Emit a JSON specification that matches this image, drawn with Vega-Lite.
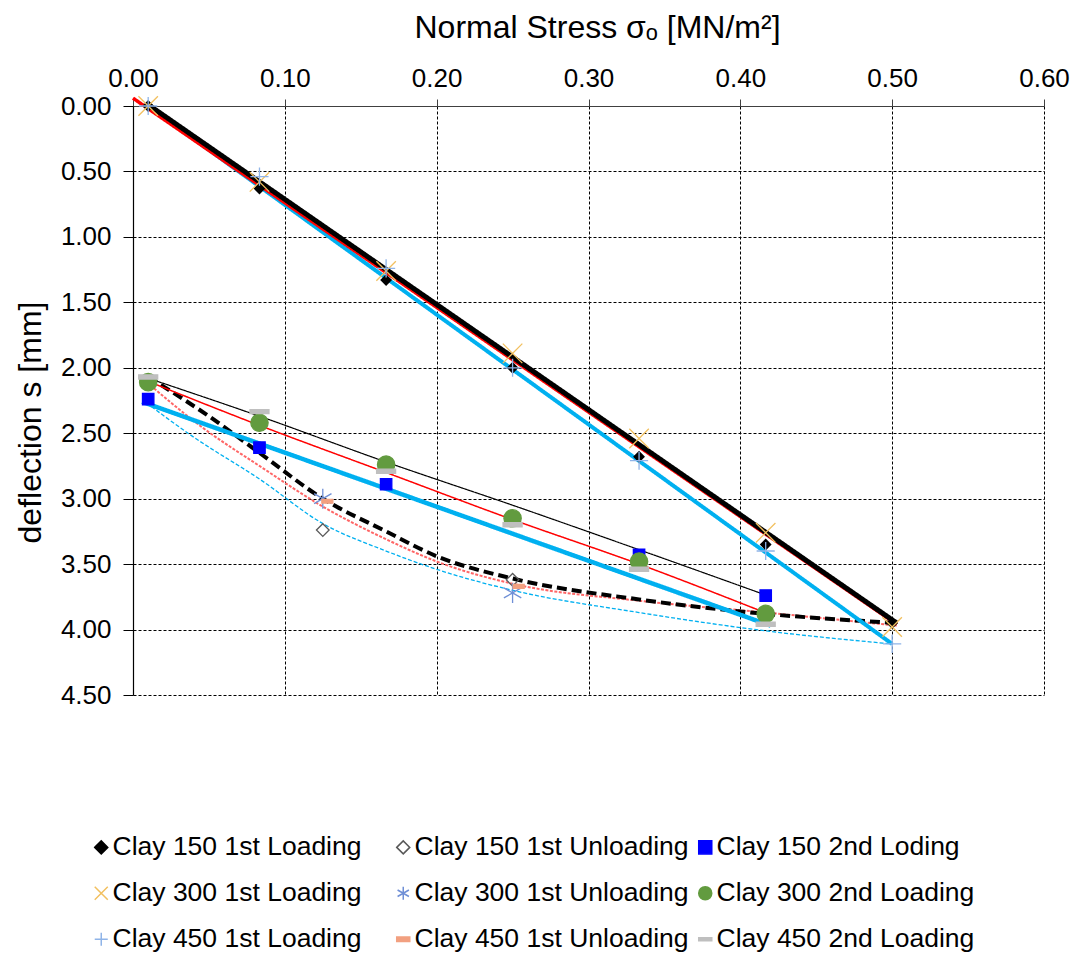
{
  "$schema": "https://vega.github.io/schema/vega-lite/v6.json",
  "width": 911,
  "height": 589,
  "autosize": {"type": "none"},
  "padding": {"left": 133, "top": 106, "right": 33, "bottom": 259},
  "background": "white",
  "config": {"view": {"stroke": null}, "font": "Liberation Sans"},
  "datasets": {
    "lines": [
      {"line": "cyanDash", "x": 0.009, "y": 2.27},
      {"line": "cyanDash", "x": 0.04, "y": 2.53},
      {"line": "cyanDash", "x": 0.0833, "y": 2.85},
      {"line": "cyanDash", "x": 0.125, "y": 3.19},
      {"line": "cyanDash", "x": 0.1667, "y": 3.4},
      {"line": "cyanDash", "x": 0.2, "y": 3.54},
      {"line": "cyanDash", "x": 0.25, "y": 3.7},
      {"line": "cyanDash", "x": 0.3333, "y": 3.87},
      {"line": "cyanDash", "x": 0.4167, "y": 4.01},
      {"line": "cyanDash", "x": 0.5, "y": 4.11},
      {"line": "redDot", "x": 0.007, "y": 2.09},
      {"line": "redDot", "x": 0.045, "y": 2.45},
      {"line": "redDot", "x": 0.0833, "y": 2.75},
      {"line": "redDot", "x": 0.125, "y": 3.06},
      {"line": "redDot", "x": 0.1667, "y": 3.31},
      {"line": "redDot", "x": 0.2, "y": 3.48},
      {"line": "redDot", "x": 0.25, "y": 3.65},
      {"line": "redDot", "x": 0.3333, "y": 3.78},
      {"line": "redDot", "x": 0.4167, "y": 3.87},
      {"line": "redDot", "x": 0.503, "y": 3.97},
      {"line": "blackDash", "x": 0.01, "y": 2.07},
      {"line": "blackDash", "x": 0.05, "y": 2.37},
      {"line": "blackDash", "x": 0.0833, "y": 2.65},
      {"line": "blackDash", "x": 0.125, "y": 3.0},
      {"line": "blackDash", "x": 0.1667, "y": 3.25},
      {"line": "blackDash", "x": 0.2, "y": 3.44},
      {"line": "blackDash", "x": 0.25, "y": 3.61},
      {"line": "blackDash", "x": 0.3333, "y": 3.77},
      {"line": "blackDash", "x": 0.4167, "y": 3.88},
      {"line": "blackDash", "x": 0.503, "y": 3.95},
      {"line": "blackThin", "x": 0.01, "y": 2.08},
      {"line": "blackThin", "x": 0.0833, "y": 2.37},
      {"line": "blackThin", "x": 0.1667, "y": 2.72},
      {"line": "blackThin", "x": 0.25, "y": 3.05},
      {"line": "blackThin", "x": 0.3333, "y": 3.39},
      {"line": "blackThin", "x": 0.42, "y": 3.75},
      {"line": "redThin", "x": 0.007, "y": 2.09},
      {"line": "redThin", "x": 0.0833, "y": 2.44},
      {"line": "redThin", "x": 0.1667, "y": 2.8},
      {"line": "redThin", "x": 0.25, "y": 3.16},
      {"line": "redThin", "x": 0.3333, "y": 3.5},
      {"line": "redThin", "x": 0.4175, "y": 3.876},
      {"line": "cyan2", "x": 0.006, "y": 2.26},
      {"line": "cyan2", "x": 0.42, "y": 3.97},
      {"line": "cyan1", "x": 0.01, "y": 0.0},
      {"line": "cyan1", "x": 0.5, "y": 4.11},
      {"line": "red1", "x": 0.0, "y": -0.06},
      {"line": "red1", "x": 0.503, "y": 3.96},
      {"line": "black1", "x": 0.01, "y": -0.01},
      {"line": "black1", "x": 0.503, "y": 3.95}
    ],
    "points": [
      {"s": "Clay 150 1st Loading", "x": 0.01, "y": 0.0},
      {"s": "Clay 150 1st Loading", "x": 0.0833, "y": 0.63},
      {"s": "Clay 150 1st Loading", "x": 0.1667, "y": 1.33},
      {"s": "Clay 150 1st Loading", "x": 0.25, "y": 2.0},
      {"s": "Clay 150 1st Loading", "x": 0.3333, "y": 2.68},
      {"s": "Clay 150 1st Loading", "x": 0.4167, "y": 3.35},
      {"s": "Clay 150 1st Loading", "x": 0.5, "y": 3.95},
      {"s": "Clay 150 1st Unloading", "x": 0.125, "y": 3.24},
      {"s": "Clay 150 1st Unloading", "x": 0.25, "y": 3.62},
      {"s": "Clay 150 2nd Loding", "x": 0.01, "y": 2.24},
      {"s": "Clay 150 2nd Loding", "x": 0.0833, "y": 2.61},
      {"s": "Clay 150 2nd Loding", "x": 0.1667, "y": 2.89},
      {"s": "Clay 150 2nd Loding", "x": 0.3333, "y": 3.43},
      {"s": "Clay 150 2nd Loding", "x": 0.4167, "y": 3.74},
      {"s": "Clay 300 1st Loading", "x": 0.01, "y": 0.0},
      {"s": "Clay 300 1st Loading", "x": 0.0833, "y": 0.58},
      {"s": "Clay 300 1st Loading", "x": 0.1667, "y": 1.26},
      {"s": "Clay 300 1st Loading", "x": 0.25, "y": 1.89},
      {"s": "Clay 300 1st Loading", "x": 0.3333, "y": 2.54},
      {"s": "Clay 300 1st Loading", "x": 0.4167, "y": 3.26},
      {"s": "Clay 300 1st Loading", "x": 0.5, "y": 3.98},
      {"s": "Clay 300 1st Unloading", "x": 0.125, "y": 3.0},
      {"s": "Clay 300 1st Unloading", "x": 0.25, "y": 3.72},
      {"s": "Clay 300 2nd Loading", "x": 0.01, "y": 2.11},
      {"s": "Clay 300 2nd Loading", "x": 0.0833, "y": 2.42},
      {"s": "Clay 300 2nd Loading", "x": 0.1667, "y": 2.74},
      {"s": "Clay 300 2nd Loading", "x": 0.25, "y": 3.15},
      {"s": "Clay 300 2nd Loading", "x": 0.3333, "y": 3.48},
      {"s": "Clay 300 2nd Loading", "x": 0.4167, "y": 3.88},
      {"s": "Clay 450 1st Loading", "x": 0.01, "y": 0.0},
      {"s": "Clay 450 1st Loading", "x": 0.0833, "y": 0.54},
      {"s": "Clay 450 1st Loading", "x": 0.1667, "y": 1.24},
      {"s": "Clay 450 1st Loading", "x": 0.25, "y": 2.0},
      {"s": "Clay 450 1st Loading", "x": 0.3333, "y": 2.71},
      {"s": "Clay 450 1st Loading", "x": 0.4167, "y": 3.4},
      {"s": "Clay 450 1st Loading", "x": 0.5, "y": 4.11},
      {"s": "Clay 450 1st Unloading", "x": 0.128, "y": 3.02},
      {"s": "Clay 450 1st Unloading", "x": 0.254, "y": 3.67},
      {"s": "Clay 450 2nd Loading", "x": 0.01, "y": 2.07},
      {"s": "Clay 450 2nd Loading", "x": 0.0833, "y": 2.335},
      {"s": "Clay 450 2nd Loading", "x": 0.1667, "y": 2.79},
      {"s": "Clay 450 2nd Loading", "x": 0.25, "y": 3.2},
      {"s": "Clay 450 2nd Loading", "x": 0.3333, "y": 3.54},
      {"s": "Clay 450 2nd Loading", "x": 0.4167, "y": 3.96}
    ]
  },
  "encoding": {
    "x": {
      "field": "x", "type": "quantitative",
      "scale": {"domain": [0, 0.6], "nice": false, "zero": false},
      "axis": {
        "orient": "top", "values": [0, 0.1, 0.2, 0.3, 0.4, 0.5, 0.6], "format": ".2f",
        "labelFont": "Liberation Sans", "labelFontSize": 26, "labelColor": "#000", "labelFlush": false, "labelOverlap": false,
        "labelPadding": 8, "tickSize": 7, "tickColor": "#404040", "domainColor": "#404040", "domainWidth": 1.2,
        "grid": true, "gridColor": "#000", "gridDash": [3, 2], "gridWidth": 1, "gridOpacity": 1,
        "title": "Normal Stress σₒ [MN/m²]", "titleFont": "Liberation Sans", "titleFontSize": 32, "titleFontWeight": "normal", "titleColor": "#000",
        "titleX": 464, "titleY": -79, "titleBaseline": "middle", "titleAlign": "center"
      }
    },
    "y": {
      "field": "y", "type": "quantitative",
      "scale": {"domain": [0, 4.5], "nice": false, "zero": false, "reverse": true},
      "axis": {
        "values": [0, 0.5, 1, 1.5, 2, 2.5, 3, 3.5, 4, 4.5], "format": ".2f",
        "labelFont": "Liberation Sans", "labelFontSize": 26, "labelColor": "#000", "labelFlush": false, "labelOverlap": false,
        "labelPadding": 12, "tickSize": 10, "tickColor": "#000", "domainColor": "#000", "domainWidth": 1.2,
        "grid": true, "gridColor": "#000", "gridDash": [3, 2], "gridWidth": 1, "gridOpacity": 1,
        "title": "deflection s [mm]", "titleFont": "Liberation Sans", "titleFontSize": 32, "titleFontWeight": "normal", "titleColor": "#000",
        "titleX": -103, "titleY": 316, "titleAngle": -90, "titleBaseline": "middle", "titleAlign": "center"
      }
    }
  },
  "layer": [
    {
      "data": {"name": "lines"},
      "mark": {"type": "line", "interpolate": "monotone", "clip": false},
      "encoding": {
        "color": {
          "field": "line", "type": "nominal", "legend": null,
          "scale": {
            "domain": ["cyanDash", "redDot", "blackDash", "blackThin", "redThin", "cyan2", "cyan1", "red1", "black1"],
            "range": ["#00B0F0", "#FF6666", "#000000", "#000000", "#FF0000", "#00B0F0", "#00B0F0", "#FF0000", "#000000"]
          }
        },
        "strokeWidth": {
          "field": "line", "type": "nominal", "legend": null,
          "scale": {
            "type": "ordinal",
            "domain": ["cyanDash", "redDot", "blackDash", "blackThin", "redThin", "cyan2", "cyan1", "red1", "black1"],
            "range": [1.3, 2, 4, 1.2, 1.5, 4.5, 4, 3.5, 5]
          }
        },
        "strokeDash": {
          "field": "line", "type": "nominal", "legend": null,
          "scale": {
            "domain": ["cyanDash", "redDot", "blackDash", "blackThin", "redThin", "cyan2", "cyan1", "red1", "black1"],
            "range": [[4, 2], [3, 1.5], [10, 5], [1, 0], [1, 0], [1, 0], [1, 0], [1, 0], [1, 0]]
          }
        }
      }
    },
    {
      "data": {"name": "points"},
      "mark": {"type": "point", "filled": true, "opacity": 1, "strokeWidth": 1.3},
      "encoding": {
        "shape": {
          "field": "s", "type": "nominal",
          "scale": {
            "domain": ["Clay 150 1st Loading", "Clay 150 1st Unloading", "Clay 150 2nd Loding", "Clay 300 1st Loading", "Clay 300 1st Unloading", "Clay 300 2nd Loading", "Clay 450 1st Loading", "Clay 450 1st Unloading", "Clay 450 2nd Loading"],
            "range": ["diamond", "diamond", "square", "M-1,-1L1,1M-1,1L1,-1", "M0,-1L0,1M-0.87,-0.5L0.87,0.5M-0.87,0.5L0.87,-0.5", "circle", "M-1,0L1,0M0,-1L0,1", "M-1,-0.35L1,-0.35L1,0.35L-1,0.35Z", "M-1,-0.22L1,-0.22L1,0.22L-1,0.22Z"]
          },
          "legend": {
            "title": null, "orient": "none", "legendX": -45, "legendY": 728, "columns": 3, "direction": "horizontal", "gridAlign": "all",
            "columnPadding": 3, "rowPadding": 19, "labelOffset": -2, "padding": 0,
            "labelFont": "Liberation Sans", "labelFontSize": 26.5, "labelColor": "#000", "labelLimit": 400,
            "symbolSize": 170, "symbolStrokeWidth": 1.5, "symbolOpacity": 1
          }
        },
        "fill": {
          "field": "s", "type": "nominal",
          "scale": {
            "domain": ["Clay 150 1st Loading", "Clay 150 1st Unloading", "Clay 150 2nd Loding", "Clay 300 1st Loading", "Clay 300 1st Unloading", "Clay 300 2nd Loading", "Clay 450 1st Loading", "Clay 450 1st Unloading", "Clay 450 2nd Loading"],
            "range": ["#000000", "transparent", "#0000FF", "transparent", "transparent", "#629B3F", "transparent", "#F2A080", "#BFBFBF"]
          },
          "legend": {
            "title": null, "orient": "none", "legendX": -45, "legendY": 728, "columns": 3, "direction": "horizontal", "gridAlign": "all",
            "columnPadding": 3, "rowPadding": 19, "labelOffset": -2, "padding": 0,
            "labelFont": "Liberation Sans", "labelFontSize": 26.5, "labelColor": "#000", "labelLimit": 400,
            "symbolSize": 170, "symbolStrokeWidth": 1.5, "symbolOpacity": 1
          }
        },
        "stroke": {
          "field": "s", "type": "nominal",
          "scale": {
            "domain": ["Clay 150 1st Loading", "Clay 150 1st Unloading", "Clay 150 2nd Loding", "Clay 300 1st Loading", "Clay 300 1st Unloading", "Clay 300 2nd Loading", "Clay 450 1st Loading", "Clay 450 1st Unloading", "Clay 450 2nd Loading"],
            "range": ["#000000", "#595959", "#0000FF", "#F2C060", "#6F8FD6", "#629B3F", "#8FB4E8", "#F2A080", "#BFBFBF"]
          },
          "legend": {
            "title": null, "orient": "none", "legendX": -45, "legendY": 728, "columns": 3, "direction": "horizontal", "gridAlign": "all",
            "columnPadding": 3, "rowPadding": 19, "labelOffset": -2, "padding": 0,
            "labelFont": "Liberation Sans", "labelFontSize": 26.5, "labelColor": "#000", "labelLimit": 400,
            "symbolSize": 170, "symbolStrokeWidth": 1.5, "symbolOpacity": 1
          }
        },
        "size": {
          "field": "s", "type": "nominal", "legend": null,
          "scale": {
            "type": "ordinal",
            "domain": ["Clay 450 2nd Loading", "Clay 450 1st Unloading", "Clay 450 1st Loading", "Clay 300 2nd Loading", "Clay 300 1st Unloading", "Clay 300 1st Loading", "Clay 150 2nd Loding", "Clay 150 1st Unloading", "Clay 150 1st Loading"],
            "range": [361, 121, 330, 300, 400, 380, 130, 160, 100]
          }
        }
      }
    }
  ]
}
